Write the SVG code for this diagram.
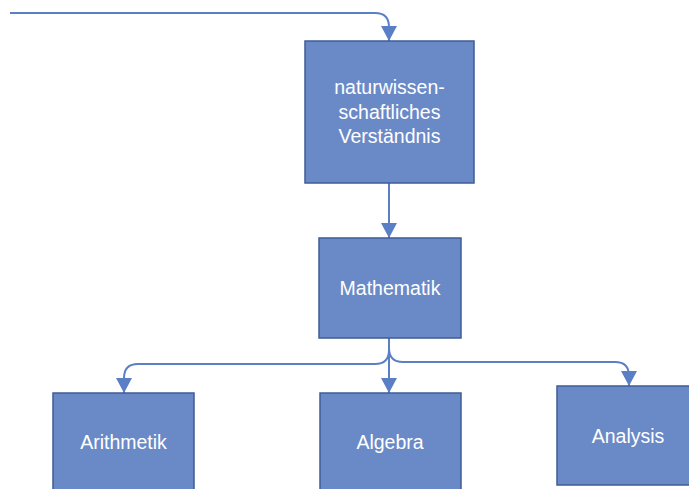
<svg xmlns="http://www.w3.org/2000/svg" width="689" height="489" viewBox="0 0 689 489">
  <style>
    .box { fill: #6a8ac7; stroke: #3f5c96; stroke-width: 1.5; }
    .lbl { fill: #ffffff; font-family: "Liberation Sans", Arial, sans-serif; font-size: 19.5px; text-anchor: middle; }
    .edge { fill: none; stroke: #5b7fc4; stroke-width: 2; }
  </style>
  <defs>
    <marker id="arrow" viewBox="0 0 15 16" refX="15" refY="8" markerWidth="15" markerHeight="16" markerUnits="userSpaceOnUse" orient="auto">
      <path d="M0,0 L15,8 L0,16 z" fill="#5b7fc4"/>
    </marker>
  </defs>

  <g id="connectors">
    <path class="edge" d="M10,13 H375 Q389,13 389,27 V41" marker-end="url(#arrow)"/>
    <path class="edge" d="M389,183 V238" marker-end="url(#arrow)"/>
    <path class="edge" d="M389,338 V350 Q389,364 375,364 H138 Q124,364 124,378 V393" marker-end="url(#arrow)"/>
    <path class="edge" d="M389,338 V393" marker-end="url(#arrow)"/>
    <path class="edge" d="M389,338 V348 Q389,362 403,362 H615 Q629,362 629,376 V386" marker-end="url(#arrow)"/>
  </g>

  <g id="node-verstaendnis">
    <rect class="box" x="305" y="41" width="169" height="142"/>
    <text class="lbl" x="389.5" y="94">naturwissen-</text>
    <text class="lbl" x="389.5" y="118.5">schaftliches</text>
    <text class="lbl" x="389.5" y="143">Verständnis</text>
  </g>

  <g id="node-mathematik">
    <rect class="box" x="319" y="238" width="142" height="100"/>
    <text class="lbl" x="390" y="295">Mathematik</text>
  </g>

  <g id="node-arithmetik">
    <rect class="box" x="53" y="393" width="141" height="100"/>
    <text class="lbl" x="123.5" y="449">Arithmetik</text>
  </g>

  <g id="node-algebra">
    <rect class="box" x="320" y="393" width="141" height="100"/>
    <text class="lbl" x="390" y="449">Algebra</text>
  </g>

  <g id="node-analysis">
    <rect class="box" x="557" y="386" width="142" height="99"/>
    <text class="lbl" x="628" y="443">Analysis</text>
  </g>
</svg>
